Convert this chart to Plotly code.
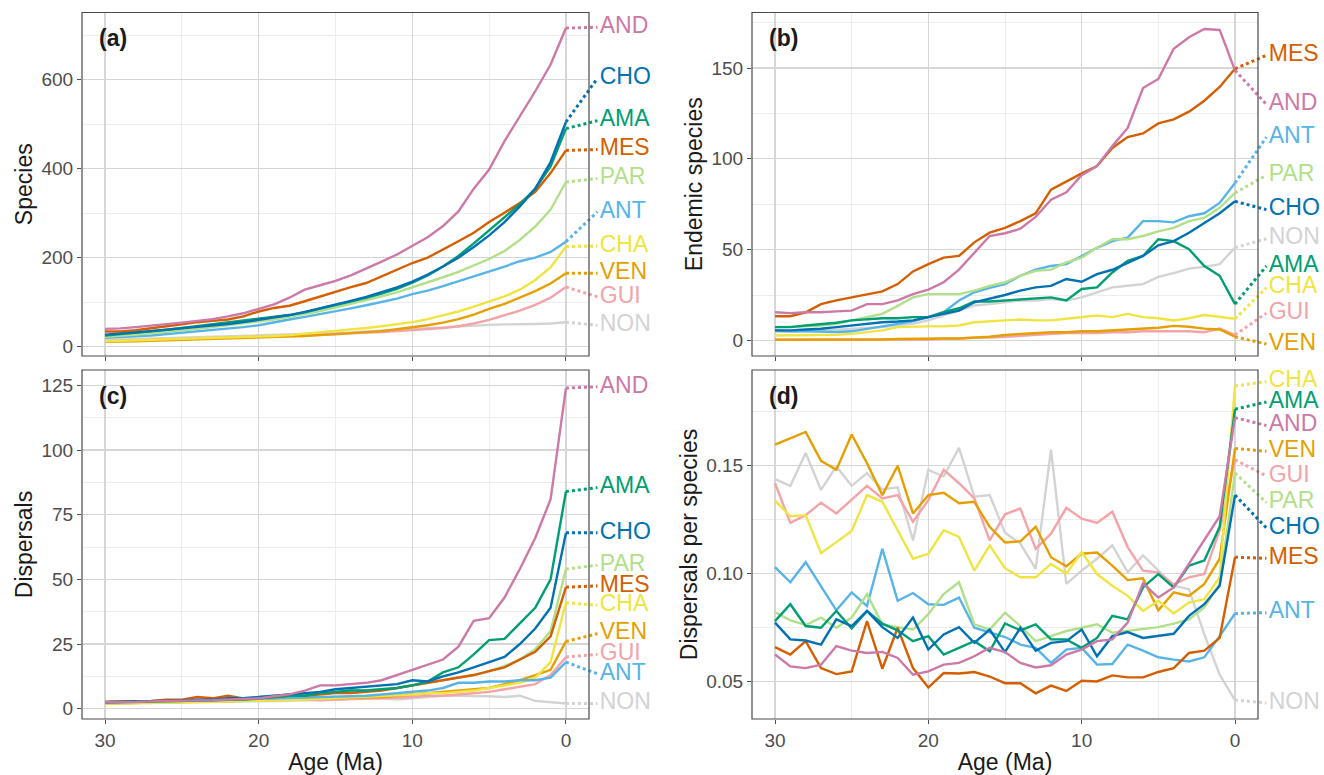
import plotly.graph_objects as go

# ---------------- data (ages 30 -> 0 Ma, 1 Ma steps) ----------------
ages = list(range(30, -1, -1))
regions = ["AND", "CHO", "AMA", "MES", "PAR", "ANT", "CHA", "VEN", "GUI", "NON"]
region_colors = ["#CC79A7", "#0072B2", "#009E73", "#D55E00", "#B2DF8A",
                 "#56B4E9", "#F0E442", "#E69F00", "#F4A3A8", "#D3D3D3"]

# (a) Species
sp_AND = [40, 41, 44, 47, 50, 54, 58, 62, 68, 75, 85, 95, 110, 128, 138, 148, 160, 175, 191, 207, 226, 246, 271, 304, 355, 398, 462, 518, 574, 634, 716]
sp_CHO = [27, 29, 32, 35, 38, 41, 44, 47, 51, 55, 60, 65, 71, 78, 86, 94, 103, 112, 122, 133, 146, 162, 180, 200, 224, 250, 280, 315, 355, 415, 505]
sp_AMA = [25, 28, 31, 34, 38, 42, 46, 50, 54, 58, 62, 66, 71, 77, 85, 93, 101, 110, 119, 130, 144, 160, 180, 204, 232, 262, 290, 320, 355, 405, 490]
sp_MES = [34, 34, 37, 42, 46, 50, 55, 58, 61, 68, 79, 87, 92, 102, 113, 124, 134, 143, 158, 173, 188, 200, 218, 237, 256, 280, 301, 323, 348, 390, 441]
sp_PAR = [22, 24, 27, 30, 33, 36, 40, 44, 48, 52, 56, 61, 67, 73, 80, 88, 96, 104, 113, 122, 133, 144, 156, 168, 182, 197, 215, 240, 270, 308, 370]
sp_ANT = [20, 21, 23, 25, 28, 31, 34, 37, 40, 44, 48, 55, 61, 67, 73, 79, 86, 93, 100, 108, 118, 126, 136, 147, 158, 168, 180, 192, 200, 213, 236]
sp_CHA = [12, 13, 14, 15, 16, 17, 18, 19, 20, 21, 22, 24, 26, 29, 32, 35, 38, 42, 46, 50, 55, 62, 70, 79, 90, 102, 113, 128, 150, 178, 225]
sp_VEN = [11, 11, 12, 13, 14, 15, 16, 17, 18, 19, 20, 21, 22, 24, 26, 28, 30, 32, 35, 39, 43, 48, 54, 62, 72, 85, 96, 110, 125, 142, 165]
sp_GUI = [12, 13, 14, 15, 16, 17, 18, 19, 20, 21, 22, 23, 24, 25, 26, 28, 30, 31, 33, 35, 37, 39, 42, 46, 52, 60, 70, 81, 94, 110, 134]
sp_NON = [15, 16, 17, 18, 19, 20, 21, 22, 23, 24, 25, 26, 27, 28, 29, 30, 32, 34, 36, 38, 40, 42, 44, 46, 48, 49, 50, 50, 51, 52, 55]

# (b) Endemic species
en_AND = [15.5, 15, 15.5, 15.5, 16, 16.4, 20, 20, 22, 25.5, 28, 32, 39, 48, 57.5, 59, 61.5, 68, 77.5, 81.6, 91, 96, 107, 117, 139, 144, 160.6, 167, 171.5, 171, 148.7]
en_CHO = [5.5, 5.5, 6, 6.4, 7.3, 8.2, 9, 10, 10.4, 11, 12.8, 14.6, 16.4, 21, 22.8, 25, 27.4, 29.2, 30, 33.8, 32.3, 36.5, 38.9, 42.9, 46.5, 52.4, 54.7, 59.3, 64.8, 70, 76.6]
en_AMA = [7.3, 7.3, 8.2, 9, 9.7, 11, 11.5, 12.2, 12.2, 12.8, 12.8, 15.5, 17.7, 21.4, 21.4, 22, 22.4, 23.2, 23.7, 22, 28.3, 29.2, 37.4, 43.8, 46.5, 55.7, 54.7, 50.2, 41, 35.6, 20]
en_MES = [13.3, 13.3, 15.5, 20, 22, 23.7, 25.5, 27, 31, 38, 42, 45.6, 46.5, 54, 59.3, 62, 65.7, 70, 83, 87.6, 92, 96, 106, 112, 114, 119.5, 121.7, 126, 132, 139.6, 149.6]
en_PAR = [7.3, 7.3, 7.7, 8.2, 9.1, 11, 12.8, 14.6, 19, 23.7, 25.5, 25.5, 25.5, 27.4, 30, 32, 35.6, 38.3, 39, 43, 45.6, 51, 55.7, 55.7, 57.5, 60, 62, 65.7, 67.5, 73, 81.2]
en_ANT = [5.5, 5, 5, 4.6, 4.6, 5, 6.4, 8, 9, 10.5, 12.8, 15.5, 22, 26.5, 29, 31, 35.6, 39, 41, 42, 46.5, 51, 54.7, 56.6, 65.7, 65.7, 65, 68.4, 70, 75.7, 86.7]
en_CHA = [2.7, 2.7, 2.7, 3.1, 3.1, 3.6, 4.6, 5.5, 7.3, 7.3, 7.7, 7.8, 8.2, 10, 10.4, 11, 11.5, 11, 11, 11.9, 12.8, 13.7, 12.8, 14.6, 12.8, 12.2, 11, 12.2, 14, 12.8, 11.9]
en_VEN = [0.3, 0.3, 0.3, 0.3, 0.5, 0.5, 0.5, 0.5, 0.8, 1, 1, 1, 1, 1.5, 2, 3, 3.5, 4, 4.5, 4.5, 5, 5, 5.5, 6, 6.5, 7, 8, 7.5, 6.5, 6, 2]
en_GUI = [0.5, 0.5, 0.5, 0.5, 0.5, 0.5, 0.5, 0.5, 0.5, 0.5, 0.5, 1, 1, 1.5, 1.5, 2, 2.5, 3, 3.5, 4, 4, 4, 4.5, 4.5, 5, 5, 5, 5, 4.5, 6.5, 3]
en_NON = [4.6, 4.6, 5, 5.5, 5.8, 6.4, 6.8, 7.3, 8.2, 9.1, 11, 13.7, 16.4, 19.2, 20, 21, 22, 22, 22.8, 22, 23.7, 26.5, 29.2, 30.1, 31, 35, 37, 39.5, 40.5, 42, 51.1]

# (c) Dispersals
di_AND = [2.5, 2.5, 2.6, 2.8, 3, 3.2, 3.2, 3.3, 3.5, 3.8, 4, 4.8, 5.5, 7, 9, 9, 9.5, 10, 11, 13, 15, 17, 19, 24, 34, 35, 43, 54, 66, 81, 124]
di_CHO = [2.5, 2.6, 2.7, 2.8, 3, 3.2, 3.5, 3.5, 4, 4, 4.5, 5, 5.5, 6, 6.5, 7.5, 8, 8.5, 9, 9.5, 11, 10.5, 12.5, 14, 16, 18, 20, 25, 31, 39, 68]
di_AMA = [2.5, 2.6, 2.7, 2.8, 3, 3, 3, 3.2, 3.5, 3.5, 4, 4.5, 5, 5, 6, 6.5, 7, 7, 7.5, 8, 9, 10.5, 14, 16, 21, 26.5, 27, 33, 39, 50, 84]
di_MES = [2.7, 2.8, 2.8, 3, 3.5, 3.5, 4.5, 4, 5, 4, 4, 4.5, 5, 5, 5.5, 6, 6, 6.5, 7, 8, 9, 10, 11, 12, 13, 14.5, 16, 19, 22, 28, 47]
di_PAR = [2.5, 2.5, 2.6, 2.7, 2.8, 3, 3.2, 3.5, 3.8, 4, 4.5, 5, 5.5, 6, 6, 6.5, 7, 7, 7.5, 8, 9, 10, 11, 12, 13, 14.5, 16.5, 19, 23, 30, 54]
di_ANT = [2.5, 2.5, 2.6, 2.7, 2.8, 2.9, 3, 3.2, 3.2, 3.5, 3.8, 4, 4, 4.2, 4.5, 4.8, 5, 5, 5.5, 6, 6.5, 7, 8, 10, 10, 10.5, 10.5, 11, 11, 12, 18]
di_CHA = [2, 2, 2.1, 2.2, 2.3, 2.4, 2.5, 2.7, 2.8, 3, 3, 3.2, 3.3, 3.5, 3.8, 4, 4.2, 4.5, 4.8, 5, 5.5, 6, 6, 6.5, 7, 8, 9, 10, 12, 18, 41]
di_VEN = [2, 2.1, 2.2, 2.3, 2.5, 2.5, 2.7, 2.8, 3, 3, 3.2, 3.3, 3.5, 3.8, 4, 4, 4.2, 4.5, 4.5, 5, 5.5, 6, 6.5, 7, 7.5, 8, 9.5, 11, 13, 15, 26]
di_GUI = [2, 2.1, 2.2, 2.3, 2.4, 2.5, 2.6, 2.7, 2.8, 3, 3, 3.2, 3.3, 3.5, 3.2, 3.5, 3.8, 4, 4, 4.2, 4.5, 5, 5, 5.5, 6, 6.5, 7.5, 8.5, 9.5, 13, 20]
di_NON = [2.2, 2.2, 2.2, 2.3, 2.4, 2.5, 2.5, 2.6, 2.7, 2.8, 2.8, 3, 3, 3.2, 3.3, 3.5, 3.5, 3.8, 4, 3.5, 4, 4.5, 5, 5, 5, 4.8, 4.5, 5, 3, 2.5, 2]

# (d) Dispersals per species
dp_AND = [0.0625, 0.057, 0.0562, 0.0578, 0.0664, 0.0643, 0.0632, 0.0637, 0.0609, 0.0531, 0.0547, 0.0578, 0.0586, 0.0617, 0.0656, 0.0636, 0.0586, 0.0565, 0.0575, 0.0625, 0.0648, 0.0687, 0.0695, 0.0773, 0.0955, 0.0889, 0.0936, 0.1045, 0.1154, 0.1266, 0.1723]
dp_CHO = [0.0773, 0.0695, 0.069, 0.0671, 0.0788, 0.0757, 0.0827, 0.0752, 0.0702, 0.0796, 0.0648, 0.0718, 0.0752, 0.0679, 0.0741, 0.0636, 0.0749, 0.0643, 0.0679, 0.0687, 0.0741, 0.0617, 0.071, 0.0729, 0.0702, 0.071, 0.0721, 0.0804, 0.0858, 0.0944, 0.1364]
dp_AMA = [0.078, 0.0858, 0.0757, 0.0749, 0.0827, 0.0746, 0.0827, 0.0768, 0.0737, 0.0687, 0.071, 0.0625, 0.0656, 0.0687, 0.064, 0.0769, 0.0737, 0.0765, 0.0695, 0.0695, 0.0656, 0.0702, 0.0804, 0.0788, 0.0936, 0.0998, 0.0936, 0.1037, 0.1061, 0.1217, 0.1762]
dp_MES = [0.0659, 0.0625, 0.0687, 0.0562, 0.0534, 0.0547, 0.078, 0.0559, 0.0749, 0.0562, 0.0472, 0.0539, 0.0537, 0.0544, 0.0523, 0.0492, 0.0492, 0.0445, 0.0481, 0.0456, 0.0503, 0.05, 0.0528, 0.0519, 0.0519, 0.0544, 0.0562, 0.0632, 0.0643, 0.0702, 0.1076]
dp_PAR = [0.0822, 0.0783, 0.0762, 0.0796, 0.0749, 0.0796, 0.0905, 0.0765, 0.0752, 0.0741, 0.0812, 0.0905, 0.096, 0.0765, 0.0741, 0.0819, 0.0757, 0.0687, 0.071, 0.0734, 0.0749, 0.0765, 0.0726, 0.0734, 0.0741, 0.0752, 0.0768, 0.0788, 0.0843, 0.0952, 0.1466]
dp_ANT = [0.103, 0.096, 0.1053, 0.0944, 0.083, 0.0913, 0.085, 0.1115, 0.0874, 0.091, 0.0858, 0.0855, 0.0889, 0.0749, 0.0726, 0.0706, 0.0671, 0.0656, 0.0586, 0.0648, 0.0656, 0.0578, 0.0581, 0.0671, 0.0643, 0.0612, 0.0601, 0.0593, 0.0612, 0.071, 0.0815]
dp_CHA = [0.1338, 0.1266, 0.1271, 0.1095, 0.1146, 0.1198, 0.1364, 0.1333, 0.1201, 0.1069, 0.1092, 0.1201, 0.117, 0.1014, 0.1131, 0.1025, 0.0983, 0.0983, 0.1045, 0.1, 0.11, 0.0998, 0.0944, 0.0897, 0.0827, 0.0874, 0.0815, 0.0866, 0.0882, 0.0983, 0.187]
dp_VEN = [0.1598, 0.1629, 0.1657, 0.1523, 0.1481, 0.1645, 0.1512, 0.1364, 0.15, 0.1279, 0.1364, 0.1375, 0.1326, 0.1333, 0.1217, 0.1144, 0.115, 0.1217, 0.1076, 0.1034, 0.1092, 0.1098, 0.1037, 0.097, 0.0978, 0.083, 0.0913, 0.0897, 0.0952, 0.1069, 0.158]
dp_GUI = [0.1419, 0.1235, 0.1271, 0.1329, 0.1279, 0.1341, 0.1407, 0.1349, 0.1364, 0.124, 0.1341, 0.1481, 0.1419, 0.1349, 0.1154, 0.1275, 0.1302, 0.1115, 0.1185, 0.1305, 0.1255, 0.1235, 0.1287, 0.1123, 0.1014, 0.1006, 0.0949, 0.0983, 0.0998, 0.1201, 0.1528]
dp_NON = [0.1438, 0.1407, 0.1559, 0.1388, 0.1497, 0.1407, 0.1466, 0.1391, 0.14, 0.1154, 0.1481, 0.145, 0.1583, 0.1357, 0.1364, 0.119, 0.1139, 0.1022, 0.1575, 0.0952, 0.1014, 0.1069, 0.1131, 0.1006, 0.1084, 0.1014, 0.0944, 0.0928, 0.0718, 0.0531, 0.0414]

# label heights (where each repelled region label sits), same order as `regions`
lab_a = [718, 603, 508, 443, 378, 303, 226, 165, 112, 48]
lab_b = [130, 72, 41, 157, 91, 112, 29, -2, 15, 56]
lab_c = [124.5, 68, 85.5, 47.5, 55.5, 13.5, 40, 29, 21, 2]
lab_d = [0.1687, 0.1212, 0.1796, 0.1071, 0.1329, 0.0819, 0.189, 0.1567, 0.1453, 0.040]

panel_data = [
    dict(tag="(a)", title="Species", labels=lab_a,
         series=[sp_AND, sp_CHO, sp_AMA, sp_MES, sp_PAR, sp_ANT, sp_CHA, sp_VEN, sp_GUI, sp_NON],
         yrange=[-21, 751], dtick=200, tick0=0, minor=100, fmt=None),
    dict(tag="(b)", title="Endemic species", labels=lab_b,
         series=[en_AND, en_CHO, en_AMA, en_MES, en_PAR, en_ANT, en_CHA, en_VEN, en_GUI, en_NON],
         yrange=[-8.6, 180.6], dtick=50, tick0=0, minor=25, fmt=None),
    dict(tag="(c)", title="Dispersals", labels=lab_c,
         series=[di_AND, di_CHO, di_AMA, di_MES, di_PAR, di_ANT, di_CHA, di_VEN, di_GUI, di_NON],
         yrange=[-4, 131], dtick=25, tick0=0, minor=12.5, fmt=None),
    dict(tag="(d)", title="Dispersals per species", labels=lab_d,
         series=[dp_AND, dp_CHO, dp_AMA, dp_MES, dp_PAR, dp_ANT, dp_CHA, dp_VEN, dp_GUI, dp_NON],
         yrange=[0.0326, 0.1944], dtick=0.05, tick0=0.05, minor=0.025, fmt=".2f"),
]

# ---------------- layout geometry ----------------
W, H = 1324, 775
FONT = "Liberation Sans, Arial, Helvetica, sans-serif"
col_px = [(82, 589), (752, 1258)]
ext_px = [662, 1324]
row_px = [(12.5, 356), (370, 719)]
XR = [31.5, -1.5]
LINE_END = -2.05
TEXT_X = -2.2
FRAME = "#4A4A4A"
TICKC = "#4D4D4D"

fig = go.Figure()
layout = dict(width=W, height=H, margin=dict(l=0, r=0, t=0, b=0),
              paper_bgcolor="white", plot_bgcolor="rgba(0,0,0,0)", showlegend=False,
              font=dict(family=FONT))
annotations = []
shapes = []

draw_order = [9, 8, 7, 6, 5, 4, 3, 2, 1, 0]

for i, p in enumerate(panel_data):
    r, c = divmod(i, 2)
    n = i + 1
    sfx = "" if n == 1 else str(n)
    xa, ya = "x" + sfx, "y" + sfx
    xe, ye = "x" + str(n + 4), "y" + str(n + 4)
    x0, x1 = col_px[c]
    y0, y1 = row_px[r]
    xdom = [x0 / W, x1 / W]
    ydom = [1 - y1 / H, 1 - y0 / H]
    # extended invisible axes with identical scale, for the label gutter
    xe1 = ext_px[c]
    span = (XR[1] - XR[0]) * (xe1 - x0) / (x1 - x0)
    xe_range = [XR[0], XR[0] + span]

    bottom = (r == 1)
    layout["xaxis" + sfx] = dict(
        domain=xdom, range=XR, anchor=ya, tickvals=[0, 10, 20, 30],
        showticklabels=bottom, ticks="outside", ticklen=4, tickcolor=TICKC,
        tickfont=dict(size=19, color=TICKC, family=FONT),
        showgrid=True, gridcolor="#D6D6D6", gridwidth=1.3, zeroline=False,
        minor=dict(dtick=5, tick0=0, showgrid=True, gridcolor="#EBEBEB", gridwidth=0.9),
        showline=False,
        title=dict(text="Age (Ma)" if bottom else "", font=dict(size=23, color="#1A1A1A", family=FONT), standoff=5),
        automargin=False, fixedrange=True)
    yax = dict(
        domain=ydom, range=p["yrange"], anchor=xa, tickmode="linear",
        dtick=p["dtick"], tick0=p["tick0"], ticks="outside", ticklen=4, tickcolor=TICKC,
        tickfont=dict(size=19, color=TICKC, family=FONT),
        showgrid=True, gridcolor="#D6D6D6", gridwidth=1.3, zeroline=False,
        minor=dict(dtick=p["minor"], tick0=p["tick0"], showgrid=True, gridcolor="#EBEBEB", gridwidth=0.9),
        showline=False,
        title=dict(text=p["title"], font=dict(size=23, color="#1A1A1A", family=FONT), standoff=2),
        automargin=False, fixedrange=True)
    if p["fmt"]:
        yax["tickformat"] = p["fmt"]
    layout["yaxis" + sfx] = yax
    layout["xaxis" + str(n + 4)] = dict(domain=[x0 / W, xe1 / W], range=xe_range, anchor=ye,
                                       visible=False, showgrid=False, zeroline=False, fixedrange=True)
    layout["yaxis" + str(n + 4)] = dict(domain=ydom, range=p["yrange"], anchor=xe,
                                       visible=False, showgrid=False, zeroline=False, fixedrange=True)

    # panel frame
    shapes.append(dict(type="rect", xref=xa + " domain", yref=ya + " domain",
                       x0=0, x1=1, y0=0, y1=1, line=dict(color=FRAME, width=1.2),
                       fillcolor="rgba(0,0,0,0)", layer="above"))

    # data lines
    for k in draw_order:
        fig.add_trace(go.Scatter(x=ages, y=p["series"][k], mode="lines", xaxis=xa, yaxis=ya,
                                 line=dict(color=region_colors[k], width=2.4), hoverinfo="skip"))
    # dotted connectors to labels
    for k in draw_order:
        fig.add_trace(go.Scatter(x=[0, LINE_END], y=[p["series"][k][-1], p["labels"][k]],
                                 mode="lines", xaxis=xe, yaxis=ye,
                                 line=dict(color=region_colors[k], width=3, dash="dot"),
                                 hoverinfo="skip"))
    # labels
    fig.add_trace(go.Scatter(x=[TEXT_X] * len(regions), y=p["labels"], mode="text",
                             text=regions, textposition="middle right", cliponaxis=False,
                             textfont=dict(size=23, color=region_colors, family=FONT),
                             xaxis=xe, yaxis=ye, hoverinfo="skip"))
    annotations.append(dict(text="<b>%s</b>" % p["tag"], xref=xa + " domain", yref=ya + " domain",
                            x=0.03, y=0.925, xanchor="left", yanchor="middle", showarrow=False,
                            font=dict(size=23, color="#1A1A1A", family=FONT)))

layout["annotations"] = annotations
layout["shapes"] = shapes
fig.update_layout(**layout)
fig.write_html("out.html", config={"displayModeBar": False, "staticPlot": True},
               post_script="document.body.style.margin='0px';")
